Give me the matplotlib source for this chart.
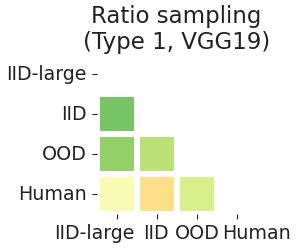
import numpy as np
import matplotlib
matplotlib.use("Agg")
import matplotlib.pyplot as plt
import matplotlib.transforms as mtransforms
import seaborn as sns

labels = ["IID-large", "IID", "OOD", "Human"]
# lower-triangle values (row, then columns left of diagonal)
row_iid = [0.77]
row_ood = [0.73, 0.66]
row_human = [0.52, 0.40, 0.60]

mat = np.full((4, 4), np.nan)
mat[1, :1] = row_iid
mat[2, :2] = row_ood
mat[3, :3] = row_human
mask = np.isnan(mat)

fig = plt.figure(figsize=(2.99, 2.49), dpi=100)
ax = fig.add_axes([0.323, 0.139, 0.535, 0.643])
sns.heatmap(mat, mask=mask, cmap="RdYlGn", vmin=0, vmax=1, cbar=False,
            linewidths=3, linecolor="white", square=False, ax=ax,
            xticklabels=labels, yticklabels=labels)
ax.tick_params(axis="both", labelsize=13.7, colors="#222222", labelcolor="#222222")
plt.setp(ax.get_yticklabels(), rotation=0)
plt.setp(ax.get_xticklabels(), rotation=0)

# nudge x labels sideways so they don't run into each other
shifts_px = [-22, -1, 1, 20]
for lab, dx in zip(ax.get_xticklabels(), shifts_px):
    lab.set_transform(lab.get_transform()
                      + mtransforms.ScaledTranslation(dx / 100, 0, fig.dpi_scale_trans))

ax.set_title("Ratio sampling\n(Type 1, VGG19)", fontsize=16.5, color="#222222", pad=1)

fig.savefig("out.png", dpi=100)
